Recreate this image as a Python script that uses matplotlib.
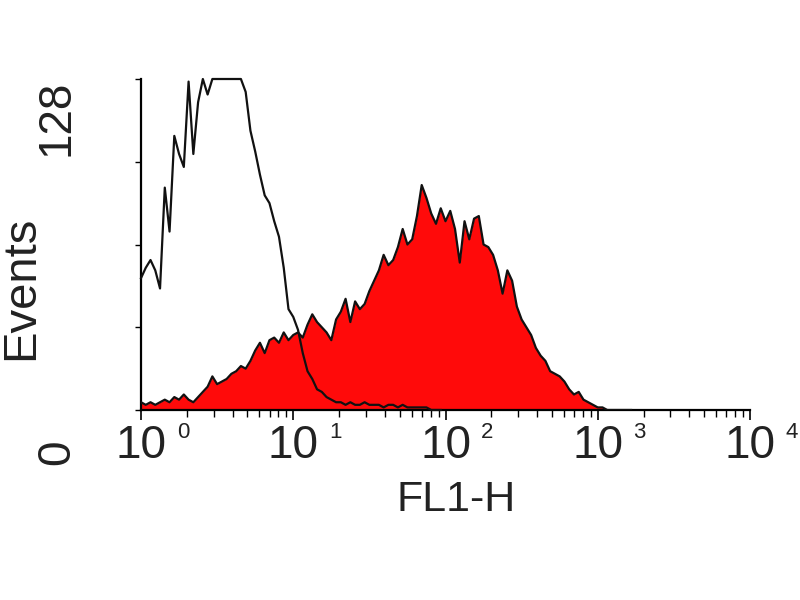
import numpy as np
import matplotlib
matplotlib.use("Agg")
import matplotlib.pyplot as plt
import matplotlib.transforms as mtransforms

plt.rcParams['font.family'] = ['Liberation Sans', 'DejaVu Sans']

# channels: 32 per decade on FL1-H log scale
channels_per_decade = 32

# stained sample (red filled histogram), events per channel
red_counts = [3, 2, 3, 2, 3, 4, 3, 5, 4, 6,
              4, 3, 5, 7, 9, 13, 10, 11, 12, 14,
              15, 17, 16, 19, 23, 26, 22, 27, 28, 26,
              30, 27, 29, 30, 28, 33, 37, 34, 32, 30,
              27, 35, 38, 43, 34, 42, 39, 41, 46, 50,
              54, 60, 56, 58, 63, 70, 64, 66, 75, 87,
              82, 76, 72, 78, 73, 77, 70, 57, 73, 66,
              74, 75, 64, 63, 60, 54, 45, 54, 50, 40,
              35, 32, 29, 24, 21, 19, 15, 14, 13, 11,
              8, 6, 7, 4, 3, 2, 1, 1, 0, 0,
              0, 0, 0, 0]

# isotype control (black open histogram), off-scale bins shown at 128
ctrl_counts = [51, 55, 58, 54, 47, 86, 69, 106, 99, 94,
               127, 99, 119, 128, 122, 128, 128, 128, 128, 128,
               128, 128, 123, 108, 100, 91, 83, 80, 73, 67,
               55, 39, 36, 31, 22, 15, 12, 8, 7, 5,
               4, 3, 3, 2, 3, 2, 2, 3, 2, 2,
               2, 1, 2, 2, 1, 2, 1, 1, 1, 1,
               1, 0, 0, 0]

y_max = 128
y_ticks = [0, 32, 64, 96, 128]
decades = [0, 1, 2, 3, 4]
x_title = "FL1-H"
y_title = "Events"

fig = plt.figure(figsize=(8, 6), dpi=100)
ax = fig.add_axes([141/800, 1-410/600, (750-141)/800, (410-79)/600])

x_red = 10 ** (np.arange(len(red_counts)) / channels_per_decade)
x_ctrl = 10 ** (np.arange(len(ctrl_counts)) / channels_per_decade)

ax.fill_between(x_red, 0, red_counts, color='#ff0a0a', lw=0, zorder=2)
ax.plot(x_red, red_counts, color='#111111', lw=1.6, zorder=3)
ax.plot(x_ctrl, ctrl_counts, color='#111111', lw=1.6, zorder=4, clip_on=False)

ax.set_xscale('log')
ax.set_xlim(10 ** decades[0], 10 ** decades[-1])
ax.set_ylim(0, y_max)
ax.spines['top'].set_visible(False)
ax.spines['right'].set_visible(False)
ax.spines['left'].set_linewidth(1.6)
ax.spines['bottom'].set_linewidth(1.6)

ax.set_yticks(y_ticks)
ax.set_yticklabels([])
ax.tick_params(axis='y', direction='out', length=4, width=1.0)
ax.set_xticks([10 ** d for d in decades])
ax.set_xticklabels([])
ax.xaxis.set_minor_locator(matplotlib.ticker.LogLocator(base=10, subs=np.arange(2, 10)))
ax.xaxis.set_minor_formatter(matplotlib.ticker.NullFormatter())
ax.tick_params(axis='x', which='major', direction='out', length=7, width=1.2)
ax.tick_params(axis='x', which='minor', direction='out', length=5, width=1.0)

# x tick labels: "10" centred on the tick, exponent raised to the right
trans = mtransforms.blended_transform_factory(ax.transData, fig.transFigure)
for d in decades:
    ax.text(10 ** d, 1 - 458/600, "10", transform=trans, ha='center', va='baseline',
            fontsize=33, color='#222222')
    off = mtransforms.offset_copy(trans, fig=fig, x=42 * 72 / 100, y=0, units='points')
    ax.text(10 ** d, 1 - 438/600, str(d), transform=off, ha='center', va='baseline',
            fontsize=16, color='#222222')

# y labels, rotated
fig.text(57/800, 1 - 118/600, str(y_ticks[-1]), rotation=90, ha='center', va='center',
         fontsize=33, color='#222222')
fig.text(57.5/800, 1 - 452/600, str(y_ticks[0]), rotation=90, ha='center', va='center',
         fontsize=33, color='#222222')

fig.text(21/800, 1 - 288/600, y_title, rotation=90, ha='center', va='center',
         fontsize=34, color='#222222')
fig.text(456/800, 1 - 500/600, x_title, ha='center', va='center',
         fontsize=31, color='#222222')

fig.savefig('out.png', dpi=100)
